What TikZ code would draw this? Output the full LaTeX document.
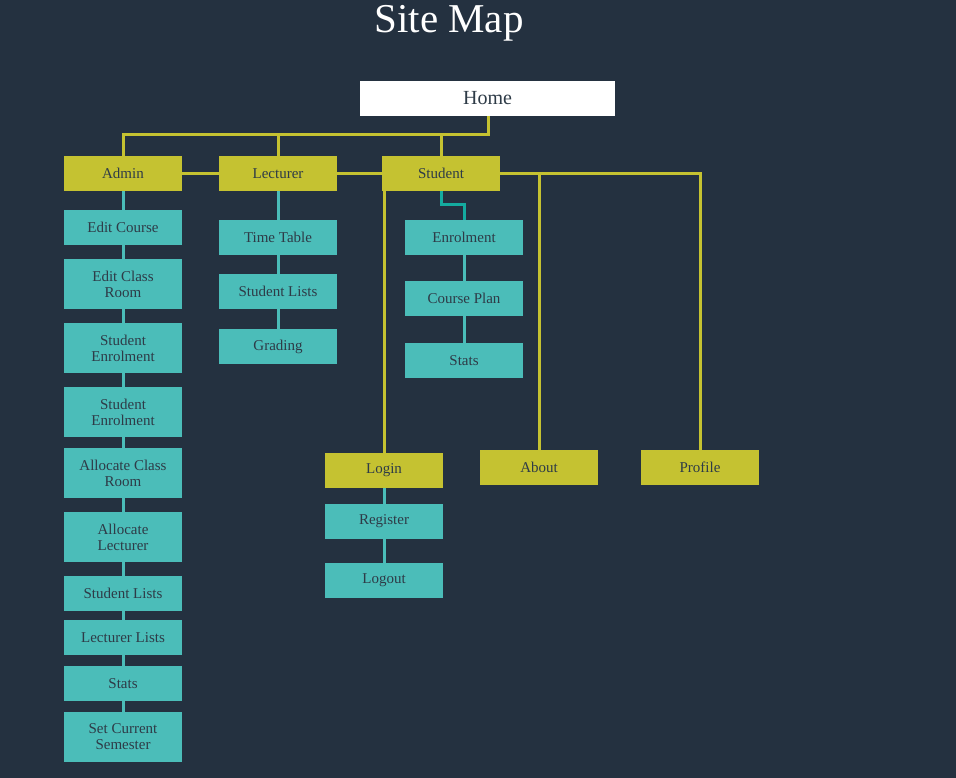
\documentclass[tikz,border=0pt]{standalone}
\usepackage{fontspec}
\setmainfont{Liberation Serif}
\definecolor{bg}{HTML}{243140}
\definecolor{ylw}{HTML}{C5C231}
\definecolor{tl}{HTML}{4BBDB9}
\definecolor{tldark}{HTML}{14AB9F}
\definecolor{txt}{HTML}{2E3B47}
\begin{document}
\begin{tikzpicture}[x=1pt,y=-1pt,
  box/.style={minimum width=118pt,minimum height=35pt,inner sep=0pt,align=center,
    text=txt,font=\fontsize{15}{16}\selectfont},
  ybox/.style={box,fill=ylw},
  tbox/.style={box,fill=tl},
  tallbox/.style={tbox,minimum height=50pt},
  yline/.style={draw=ylw,line width=3pt},
  tline/.style={draw=tl,line width=3pt},
  tline2/.style={draw=tldark,line width=3pt}]
\fill[bg] (0,0) rectangle (956,778);
\useasboundingbox (0,0) rectangle (956,778);
\node[text=white,font=\fontsize{41}{44}\selectfont,anchor=base,inner sep=0pt] (title) at (449,33) {Site Map};
\node[fill=white,minimum width=255pt,minimum height=35pt,inner sep=0pt,text=txt,
  font=\fontsize{20}{22}\selectfont] (home) at (487.5,98.5) {Home};
% level 1
\node[ybox] (admin) at (123,173.5) {Admin};
\node[ybox] (lect) at (278,173.5) {Lecturer};
\node[ybox] (stud) at (441,173.5) {Student};
% admin column
\node[tbox] (a1) at (123,227.5) {Edit Course};
\node[tallbox] (a2) at (123,284) {Edit Class\\Room};
\node[tallbox] (a3) at (123,348) {Student\\Enrolment};
\node[tallbox] (a4) at (123,412) {Student\\Enrolment};
\node[tallbox] (a5) at (123,473) {Allocate Class\\Room};
\node[tallbox] (a6) at (123,537) {Allocate\\Lecturer};
\node[tbox] (a7) at (123,593.5) {Student Lists};
\node[tbox] (a8) at (123,637.5) {Lecturer Lists};
\node[tbox] (a9) at (123,683.5) {Stats};
\node[tallbox] (a10) at (123,737) {Set Current\\Semester};
% lecturer column
\node[tbox] (l1) at (278,237.5) {Time Table};
\node[tbox] (l2) at (278,291.5) {Student Lists};
\node[tbox] (l3) at (278,346.5) {Grading};
% student column
\node[tbox] (s1) at (464,237.5) {Enrolment};
\node[tbox] (s2) at (464,298.5) {Course Plan};
\node[tbox] (s3) at (464,360.5) {Stats};
% login etc
\node[ybox] (login) at (384,470.5) {Login};
\node[tbox] (reg) at (384,521.5) {Register};
\node[tbox] (logout) at (384,580.5) {Logout};
\node[ybox] (about) at (539,467.5) {About};
\node[ybox] (prof) at (700,467.5) {Profile};
% coordinates
\coordinate (hj) at (488,135);
\coordinate (sj) at (441,205);
\coordinate (sk) at (464,205);
% yellow connectors
\draw[yline] (home.south -| hj) -- (hj) -| (admin.north);
\draw[yline] (hj -| lect.north) -- (lect.north);
\draw[yline] (hj -| stud.north) -- (stud.north);
\draw[yline] (admin.east) -- (lect.west);
\draw[yline] (lect.east) -- (stud.west);
\draw[yline] (stud.east) -| (prof.north);
\draw[yline] (stud.east -| about.north) -- (about.north);
\draw[yline] (stud.south -| login.north) -- (login.north);
% teal connectors
\draw[tline] (admin.south) -- (a1.north);
\foreach \p/\q in {a1/a2,a2/a3,a3/a4,a4/a5,a5/a6,a6/a7,a7/a8,a8/a9,a9/a10,l1/l2,l2/l3,s1/s2,s2/s3,login/reg,reg/logout}
  \draw[tline] (\p.south) -- (\q.north);
\draw[tline] (lect.south) -- (l1.north);
\draw[tline2] (stud.south) -- (sj) -- (sk) -- (s1.north);
\end{tikzpicture}
\end{document}
